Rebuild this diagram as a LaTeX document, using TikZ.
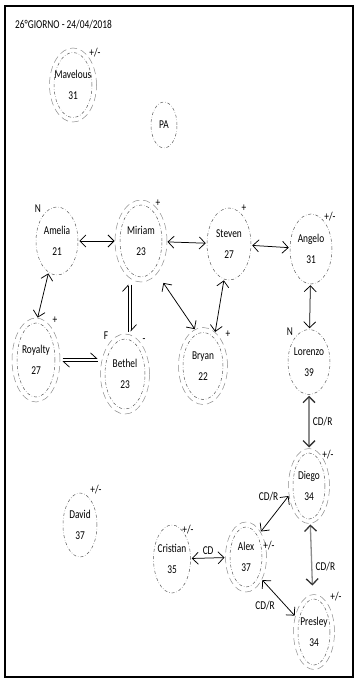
\documentclass[tikz,border=0pt]{standalone}
\usepackage{fontspec}
\setmainfont{Carlito}[FakeStretch=0.78]
\usetikzlibrary{arrows.meta, shapes.geometric}

\begin{document}
\begin{tikzpicture}[
  x=1pt, y=-1pt,
  font=\fontsize{12}{21}\selectfont,
  >={Straight Barb[length=6pt, width=12pt]},
  person/.style={ellipse, draw=black!65, dash dot, line width=0.5pt,
    minimum width=42pt, minimum height=68pt, inner xsep=-10pt, align=center},
  ringed/.style={person, outer sep=4.5pt},
  halo/.style={draw=black!45, dash pattern=on 7pt off 4pt, line width=0.5pt},
  tag/.style={inner sep=1pt},
  link/.style={<->, line width=0.75pt, shorten <=1pt, shorten >=1pt},
  grey link/.style={line width=1.3pt, draw=black!45, shorten <=1pt, shorten >=1pt,
    {Straight Barb[length=6pt, width=12pt, color=black!80]}-{Straight Barb[length=6pt, width=12pt, color=black!80]}},
  harp/.style={line width=0.75pt, shorten <=3pt, shorten >=3pt,
    -{Straight Barb[left, length=6pt, width=11pt]}},
]
  \useasboundingbox (0,0) rectangle (359,679);
  \draw[line width=1.6pt] (5,6) rectangle (353,677);

  \node[anchor=west, inner sep=0] (title) at (15,25) {26°GIORNO - 24/04/2018};

  % people
  \node[ringed, minimum width=38pt, minimum height=65pt] (mavelous) at (73,85) {Mavelous\\31};
  \node[person, minimum width=26pt, minimum height=46pt, inner xsep=0pt] (pa) at (164,125) {PA};
  \node[person] (amelia) at (57,241) {Amelia\\21};
  \node[ringed, minimum height=72pt] (miriam) at (141,241) {Miriam\\23};
  \node[person, minimum width=44pt, minimum height=72pt] (steven) at (229,244) {Steven\\27};
  \node[person, minimum height=70pt] (angelo) at (311,249) {Angelo\\31};
  \node[ringed, minimum width=38pt, minimum height=74pt] (royalty) at (36,360) {Royalty\\27};
  \node[ringed, minimum width=40pt, minimum height=70pt] (bethel) at (125,374) {Bethel\\23};
  \node[ringed, minimum width=40pt, minimum height=67pt] (bryan) at (203,366) {Bryan\\22};
  \node[person, minimum height=65pt] (lorenzo) at (309,362) {Lorenzo\\39};
  \node[ringed, minimum width=32pt, minimum height=66pt] (diego) at (309,486) {Diego\\34};
  \node[person, minimum width=34pt, minimum height=64pt] (david) at (80,525) {David\\37};
  \node[person, minimum width=37pt, minimum height=68pt] (cristian) at (172,559) {Cristian\\35};
  \node[ringed, minimum width=32pt, minimum height=60pt] (alex) at (246,557) {Alex\\37};
  \node[ringed, minimum width=32pt, minimum height=66pt] (presley) at (314,632) {Presley\\34};

  % outer rings
  \draw[halo] (mavelous.center) ellipse (23.5pt and 37pt);
  \draw[halo] (miriam.center) ellipse (26pt and 41pt);
  \draw[halo] (royalty.center) ellipse (24pt and 42pt);
  \draw[halo] (bethel.center) ellipse (24.5pt and 40pt);
  \draw[halo] (bryan.center) ellipse (24.5pt and 38.5pt);
  \draw[halo] (diego.center) ellipse (20.5pt and 37.5pt);
  \draw[halo] (alex.center) ellipse (20.5pt and 35pt);
  \draw[halo] (presley.center) ellipse (20.5pt and 37.5pt);

  % marks
  \node[tag] (mavtag) at (95,53) {+/-};
  \node[tag] (ameliatag) at (38,209) {N};
  \node[tag] (miriamtag) at (158,203) {+};
  \node[tag] (steventag) at (244,208) {+};
  \node[tag] (angelotag) at (330,217) {+/-};
  \node[tag] (royaltytag) at (55,320) {+};
  \node[tag] (betheltag) at (106,336) {F};
  \node[tag] (bethelmin) at (144,341) {-};
  \node[tag] (bryantag) at (228,334) {+};
  \node[tag] (lorenzotag) at (290,332) {N};
  \node[tag] (davidtag) at (96,490) {+/-};
  \node[tag] (cristiantag) at (188,530) {+/-};
  \node[tag] (alextag) at (269,546) {+/-};
  \node[tag] (diegotag) at (328,455) {+/-};
  \node[tag] (presleytag) at (336,597) {+/-};

  % links
  \draw[link] (amelia) -- (miriam);
  \draw[link] (miriam) -- (steven);
  \draw[link] (steven) -- (angelo);
  \draw[link] (angelo) -- (lorenzo);
  \draw[link] (amelia.-105) -- (royalty.88);
  \draw[link, shorten <=12pt] (miriam.-64) -- (bryan.102);
  \draw[link] (steven.-98) -- (bryan.70);
  \draw[harp] ([yshift=1.6pt]royalty.east) -- ([yshift=1.6pt]royalty.east -| bethel.west);
  \draw[harp] ([yshift=-1.6pt]royalty.east -| bethel.west) -- ([yshift=-1.6pt]royalty.east);
  \draw[harp] ([xshift=3pt]bethel.north) -- ([xshift=3pt]bethel.north |- miriam.south);
  \draw[harp] ([xshift=6pt]bethel.north |- miriam.south) -- ([xshift=6pt]bethel.north);
  \draw[grey link] (lorenzo) -- node[right] (cdr1) {CD/R} (diego);
  \draw[grey link, shorten >=9pt] (diego) -- node[right, pos=0.6] (cdr2) {CD/R} (presley);
  \draw[link] (alex.60) -- node[above left, pos=0.75] (cdr3) {CD/R} (diego.-155);
  \draw[link] (cristian) -- node[above] (cd) {CD} (alex);
  \draw[link] (alex.-55) -- node[below left] (cdr4) {CD/R} (presley.140);
\end{tikzpicture}
\end{document}
